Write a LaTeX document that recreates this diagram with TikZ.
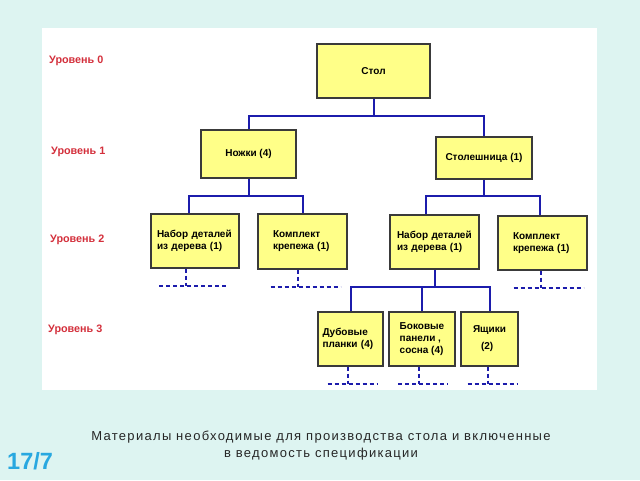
\documentclass[tikz,border=0pt]{standalone}
\usepackage{fontspec}
\setmainfont{Liberation Sans}
\newfontfamily\capfont[LetterSpace=10]{Liberation Sans}
\usepackage{tikz}

\definecolor{pagecyan}{RGB}{221,244,241}
\definecolor{boxyellow}{RGB}{255,255,136}
\definecolor{boxline}{RGB}{58,58,58}
\definecolor{linkblue}{RGB}{28,28,172}
\definecolor{levelred}{RGB}{212,48,60}
\definecolor{slideblue}{RGB}{40,168,224}

\tikzset{
  box/.style={draw=boxline, line width=1.2pt, fill=boxyellow, inner sep=0pt,
    font=\bfseries\fontsize{10}{12}\selectfont},
  level/.style={anchor=west, inner sep=0pt, text=levelred,
    font=\bfseries\fontsize{10.8}{13}\selectfont},
  link/.style={draw=linkblue, line width=2pt},
  stub/.style={draw=linkblue, line width=2pt, dash pattern=on 4pt off 3pt}
}

\begin{document}
\begin{tikzpicture}[x=1pt,y=-1pt]
            % Background and white panel
            \fill[pagecyan] (0,0) rectangle (640,480);
            \fill[white] (42,28) rectangle (597,390);
            \useasboundingbox (0,0) rectangle (640,480);

            % Level 0 and 1
            \node[box, minimum width=113, minimum height=54] (stol) at (373.5,71) {Стол};
            \node[box, minimum width=95, minimum height=48] (nozhki) at (248.5,154) {Ножки (4)};
            \node[box, minimum width=96, minimum height=42] (stoleshnica) at (484,158) {Столешница (1)};

            % Level 2
            \node[box, minimum width=88, minimum height=54, text width=76, align=left]
                (nabor1) at (195,241) {Набор деталей\\из дерева (1)};
            \node[box, minimum width=89, minimum height=55, text width=59, align=left]
                (krep1) at (302.5,241.5) {Комплект\\крепежа (1)};
            \node[box, minimum width=89, minimum height=54, text width=75, align=left]
                (nabor2) at (434.5,242) {Набор деталей\\из дерева (1)};
            \node[box, minimum width=89, minimum height=54, text width=59, align=left]
                (krep2) at (542.5,243) {Комплект\\крепежа (1)};

            % Level 3
            \node[box, minimum width=65, minimum height=54, text width=56, align=left]
                (dub) at (350.5,339) {Дубовые\\планки (4)};
            \node[box, minimum width=66, minimum height=54, align=left]
                (bok) at (422,339) {Боковые\\панели ,\\сосна (4)};
            \node[box, minimum width=57, minimum height=54, align=left]
                (yasch) at (489.5,339) {Ящики\\[5pt]\hspace*{8pt}(2)};

            % Connectors
            \coordinate (b0) at ([yshift=-17]stol.south);
            \draw[link] (stol.south) -- (b0);
            \draw[link] (nozhki.north) |- (b0) -| (stoleshnica.north);
            \coordinate (b1) at ([yshift=-17]nozhki.south);
            \draw[link] (nozhki.south) -- (b1);
            \draw[link] ([xshift=-6]nabor1.north) |- (b1) -| (krep1.north);
            \coordinate (b2) at ([yshift=-16]stoleshnica.south);
            \draw[link] (stoleshnica.south) -- (b2);
            \draw[link] ([xshift=-9]nabor2.north) |- (b2) -| ([xshift=-3]krep2.north);
            \coordinate (b3) at ([yshift=-17]nabor2.south);
            \draw[link] (nabor2.south) -- (b3);
            \draw[link] (dub.north) |- (b3) -| (yasch.north);
            \draw[link] (b3) -| (bok.north);

            % Dashed continuations
            \foreach \n/\dx/\l/\r in {nabor1/-9/27/42, krep1/-5/27/43, krep2/-2/27/43,
                                     dub/-3/20/30, bok/-3/21/29, yasch/-2/20/30} {
                \draw[stub] ([xshift=\dx]\n.south) -- ++(0,17) coordinate (\n-end);
                \draw[stub] ([xshift=-\l]\n-end) -- ([xshift=\r]\n-end);
            }

            % Level labels
            \foreach \y/\ytext/\x in {61/0/49, 152/1/51, 240/2/50, 330/3/48}
                \node[level] (lev\ytext) at (\x,\y) {Уровень \ytext};

            % Caption and slide number
            \node[align=center, inner sep=0pt, text=black!85,
                  font=\capfont\fontsize{13}{17}\selectfont] (caption) at (321,446)
                {Материалы необходимые для производства стола и включенные\\в ведомость спецификации};
            \node[anchor=west, inner sep=0pt, text=slideblue,
                  font=\bfseries\fontsize{23.5}{26}\selectfont] (slide) at (7,461) {17/7};
\end{tikzpicture}
\end{document}
